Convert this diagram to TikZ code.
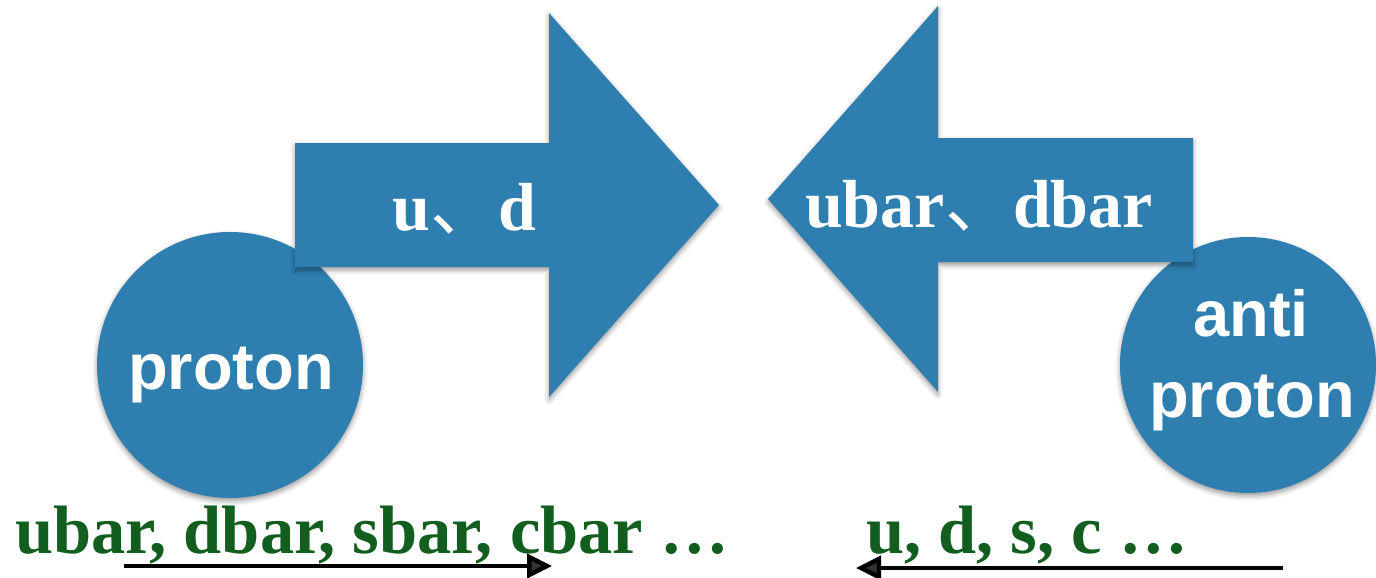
\documentclass[tikz,border=0pt]{standalone}
\usepackage{fontspec}
\setmainfont{Liberation Serif}
\newfontfamily\headfont{Liberation Sans}
\newfontfamily\cjk{Noto Sans CJK SC}
\usetikzlibrary{arrows.meta,shadows.blur}
\definecolor{paperblue}{RGB}{46,126,176}
\definecolor{quarkgreen}{RGB}{18,94,30}
\newcommand{\dunhao}{{\cjk\mdseries 、}}

\begin{document}
\begin{tikzpicture}[x=1pt,y=-1pt,
  paper/.style={fill=paperblue, draw=none,
    blur shadow={shadow xshift=0pt, shadow yshift=-3pt,
      shadow blur radius=5pt, shadow opacity=40}},
  ball/.style={paper, circle, minimum size=#1, inner sep=0pt},
  balltext/.style={anchor=base, text=white, inner sep=0pt,
    font=\headfont\bfseries\fontsize{65}{78}\selectfont},
  arrowtext/.style={anchor=base, text=white, inner sep=0pt,
    font=\bfseries\fontsize{68}{80}\selectfont},
  quarks/.style={anchor=base, text=quarkgreen, inner sep=0pt,
    font=\bfseries\fontsize{68.5}{80}\selectfont},
  flow/.style={line width=4.5pt, -{Triangle[length=25pt,width=24pt]}}
]
\useasboundingbox (0,0) rectangle (1376,578);

% the two colliding particles
\node[ball=266pt] (p)    at (230,365)  {};
\node[ball=256pt] (pbar) at (1248,365) {};

% right-pointing arrow (quarks of the proton)
\fill[paper] (295,143) -- (549,143) -- (549,13) -- (719,205)
  -- (549,397) -- (549,267) -- (295,267) -- cycle;
% left-pointing arrow (antiquarks of the antiproton)
\fill[paper] (1193,138) -- (938,138) -- (938,6) -- (768,199)
  -- (938,392) -- (938,262) -- (1193,262) -- cycle;

\node[arrowtext] (qlabel)    at (464,230) {u\dunhao d};
\node[arrowtext] (qbarlabel) at (979,227) {ubar\dunhao dbar};

\node[balltext] (plabel)  at (231,389)  {proton};
\node[balltext] (palabel) at (1251,336) {anti};
\node[balltext] (pblabel) at (1252,417) {proton};

% sea quarks underneath
\node[quarks] (seabar) at (372,553)  {ubar, dbar, sbar, cbar …};
\node[quarks] (sea)    at (1027,553) {u, d, s, c …};

\coordinate (l0) at (124,566);
\coordinate (l1) at (552,566);
\coordinate (r0) at (1283,568);
\coordinate (r1) at (856,568);
\draw[flow] (l0) -- (l1);
\draw[flow] (r0) -- (r1);
\end{tikzpicture}
\end{document}
